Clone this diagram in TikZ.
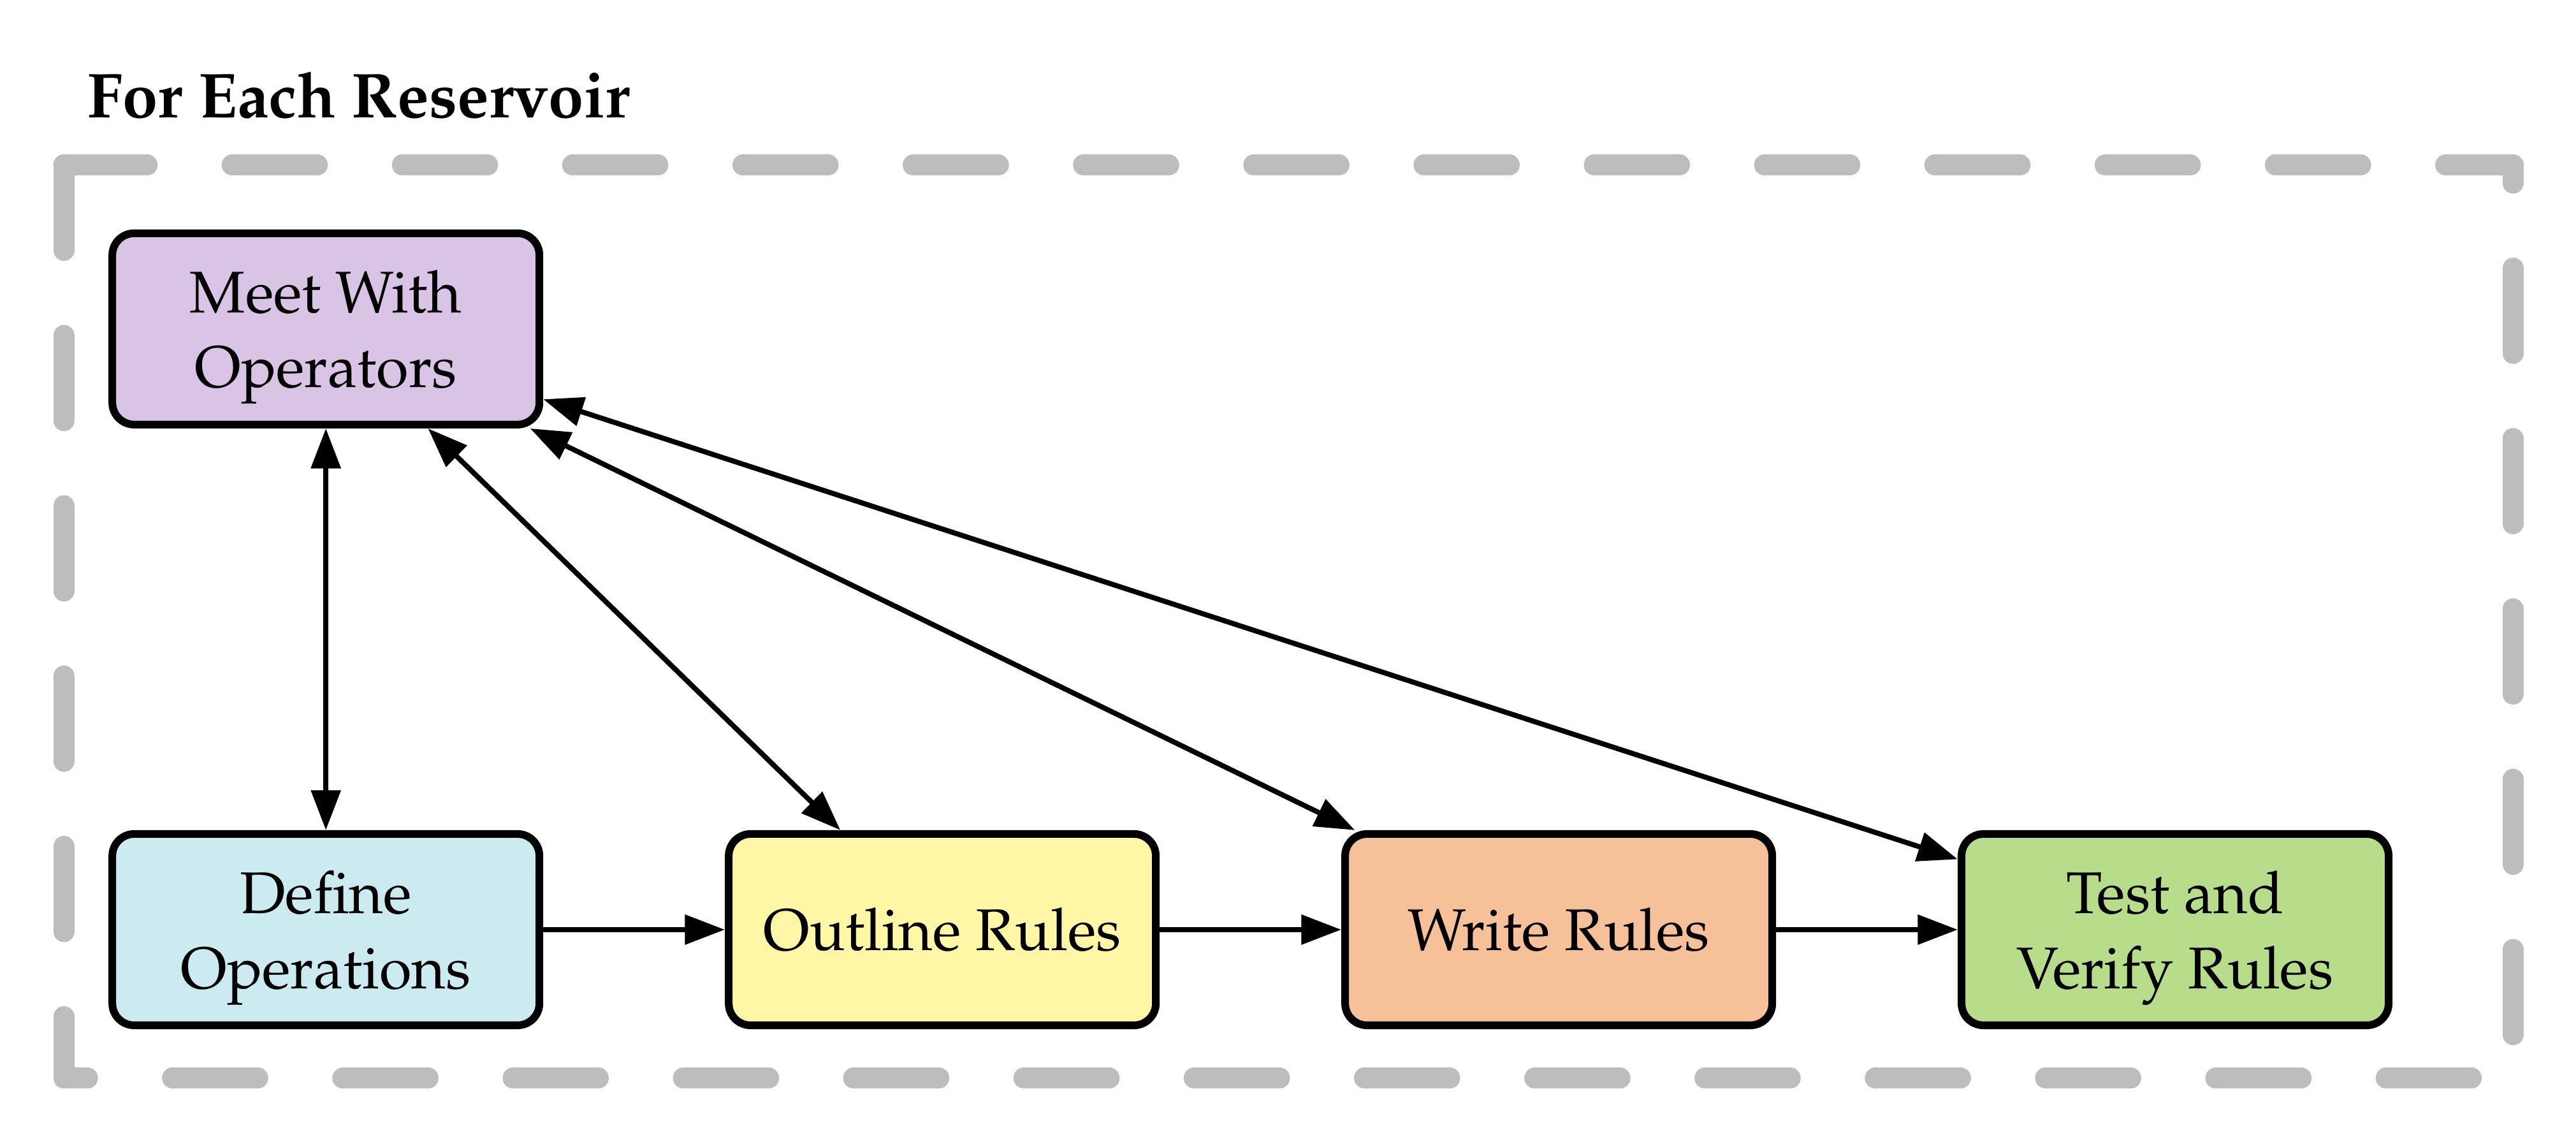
\documentclass[tikz,border=0pt]{standalone}
\usepackage[T1]{fontenc}
\usepackage{mathpazo}
\usetikzlibrary{positioning}
\usetikzlibrary{arrows.meta}
\definecolor{meetfill}{HTML}{D9C4E6}
\definecolor{definefill}{HTML}{CCEBF0}
\definecolor{outlinefill}{HTML}{FFF7A6}
\definecolor{writefill}{HTML}{F6C098}
\definecolor{testfill}{HTML}{B8DD8A}
\definecolor{framegray}{HTML}{BDBDBD}
\newcommand{\lift}{\rule{0pt}{0.46cm}} % taller first line pushes two-line texts down
\tikzset{node distance=1.41cm,
task/.style={ % Sets the properties for each step box
draw,
line width=1.7pt,
rounded corners=0.17cm,
minimum width=3.316cm,
minimum height=1.485cm,
align=center,
font=\fontsize{13}{16.5}\selectfont},
frame/.style={ % Dashed box around the whole loop
draw=framegray,
line width=4.65pt,
dash pattern=on 0.661cm off 0.661cm,
line cap=round,
line join=round},
>={Triangle[length=0.31cm,width=0.225cm]}, % Sets the arrow tips
every edge/.style={ % Sets the properties for each connector
draw,
line width=1.13pt}}

\begin{document}
\begin{tikzpicture}
	\useasboundingbox (0,0) rectangle (20,8.864);
	\coordinate (tl) at (0.495,7.582);
	\coordinate (br) at (19.510,0.495);
	\draw[frame] (tl) -- (tl |- br) -- (br) -- (br |- tl) -- cycle;
	\node[anchor=base west, inner sep=0pt, font=\bfseries\fontsize{14}{16}\selectfont] (title) at (0.673,7.953) {For Each Reservoir};
	\node[task, fill=definefill] (define) at (2.53,1.648) {\lift Define\\Operations};
	\node[task, fill=outlinefill, right=of define] (outline) {Outline Rules};
	\node[task, fill=writefill, right=of outline] (write) {Write Rules};
	\node[task, fill=testfill, right=of write] (test) {\lift Test and\\Verify Rules};
	\node[task, fill=meetfill, above=3.118cm of define] (meet) {\lift Meet With\\Operators};
	\draw (define) edge[->] (outline);
	\draw (outline) edge[->] (write);
	\draw (write) edge[->] (test);
	\draw (meet) edge[<->] (define);
	\draw (meet) edge[<->] (outline);
	\draw (meet) edge[<->] (write);
	\draw (meet) edge[<->] (test);
\end{tikzpicture}
\end{document}
